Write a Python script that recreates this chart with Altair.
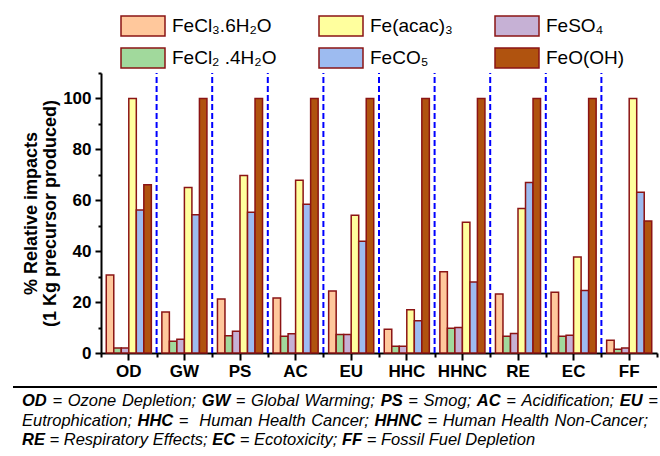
import altair as alt
import pandas as pd

# ---------------- data ----------------
categories = ["OD", "GW", "PS", "AC", "EU", "HHC", "HHNC", "RE", "EC", "FF"]
series_names = ["FeCl₃.6H₂O", "FeCl₂ .4H₂O", "FeSO₄", "Fe(acac)₃", "FeCO₅", "FeO(OH)"]
legend_order = ["FeCl₃.6H₂O", "Fe(acac)₃", "FeSO₄", "FeCl₂ .4H₂O", "FeCO₅", "FeO(OH)"]
legend_colors = ["#FFC89C", "#FFFF9E", "#C6B1D5", "#A1D99C", "#9DBBF0", "#B0530F"]

fecl3_6h2o = [30.6, 16.1, 21.2, 21.6, 24.4, 9.3, 31.9, 23.2, 23.9, 5.0]
fecl2_4h2o = [2.0, 4.6, 6.8, 6.6, 7.3, 2.7, 9.7, 6.6, 6.6, 1.5]
feso4 = [2.0, 5.4, 8.5, 7.6, 7.3, 2.7, 10.0, 7.7, 7.0, 2.0]
fe_acac3 = [100.0, 65.0, 69.7, 67.9, 54.1, 17.0, 51.4, 56.8, 37.7, 100.0]
feco5 = [56.2, 54.3, 55.3, 58.4, 43.9, 12.7, 27.9, 67.0, 24.6, 63.2]
feo_oh = [66.1, 100.0, 100.0, 100.0, 100.0, 100.0, 100.0, 100.0, 100.0, 51.9]

y_major_ticks = [0, 20, 40, 60, 80, 100]
y_minor_ticks = [10, 30, 50, 70, 90, 110]
group_boundaries = [1, 2, 3, 4, 5, 6, 7, 8, 9]

footnote_lines = [
    [("OD", True), (" = Ozone Depletion; ", False), ("GW", True), (" = Global Warming; ", False),
     ("PS", True), (" = Smog; ", False), ("AC", True), (" = Acidification; ", False),
     ("EU", True), (" =", False)],
    [("Eutrophication; ", False), ("HHC", True), (" =  Human Health Cancer; ", False),
     ("HHNC", True), (" = Human Health Non-Cancer;", False)],
    [("RE", True), (" = Respiratory Effects; ", False), ("EC", True), (" = Ecotoxicity; ", False),
     ("FF", True), (" = Fossil Fuel Depletion", False)],
]

series_values = [fecl3_6h2o, fecl2_4h2o, feso4, fe_acac3, feco5, feo_oh]
rows = []
for name, vals in zip(series_names, series_values):
    for c, v in zip(categories, vals):
        rows.append({"cat": c, "series": name, "value": v})
df = pd.DataFrame(rows)

# ---------------- layout ----------------
FONT = "Liberation Sans"
W, H = 556, 280
LEFT, TOP = 101, 73
EDGE = "#8B1414"

# Arial-compatible advance widths (per 1000 em) for footnote layout
REG = {' ': 278, '=': 584, ';': 278, '-': 333, ',': 278}
REG.update(dict(zip("ABCDEFGHIJKLMNOPQRSTUVWXYZ",
                    [667, 667, 722, 722, 667, 611, 778, 722, 278, 500, 667, 556, 833, 722, 778, 667, 778, 722, 667, 611, 722, 667, 944, 667, 667, 611])))
REG.update(dict(zip("abcdefghijklmnopqrstuvwxyz",
                    [556, 556, 500, 556, 556, 278, 556, 556, 222, 222, 500, 222, 833, 556, 556, 556, 556, 333, 500, 278, 556, 500, 722, 500, 500, 500])))
BOLD = {' ': 278}
BOLD.update(dict(zip("ABCDEFGHIJKLMNOPQRSTUVWXYZ",
                     [722, 722, 722, 722, 667, 611, 778, 722, 278, 556, 722, 611, 833, 722, 778, 667, 778, 722, 667, 611, 722, 667, 944, 667, 667, 611])))

FN_SIZE = 16.5
fn_x0 = 22 - LEFT
fn_targets = [636, 626, None]
fn_ys = [401 - TOP, 421 - TOP, 440 - TOP]


def cw(ch, bold):
    return (BOLD if bold else REG).get(ch, 556) * FN_SIZE / 1000.0


words = []
for line, target, yy in zip(footnote_lines, fn_targets, fn_ys):
    chunks = []
    for text, bold in line:
        cur = ""
        for ch in text:
            if ch == " ":
                if cur:
                    chunks.append((cur, bold, False))
                    cur = ""
                chunks.append((" ", bold, True))
            else:
                cur += ch
        if cur:
            chunks.append((cur, bold, False))
    natural = sum(sum(cw(ch, b) for ch in t) for t, b, s in chunks)
    nsp = sum(1 for t, b, s in chunks if s)
    extra = max(0.0, (target - natural) / nsp) if target else 0.0
    xc = fn_x0
    for t, b, s in chunks:
        if s:
            xc += cw(" ", b) + extra
        else:
            words.append({"t": t, "x": xc, "y": yy, "bold": b})
            xc += sum(cw(ch, b) for ch in t)
fn_df = pd.DataFrame(words)

bars = alt.Chart(df).mark_bar(stroke=EDGE, strokeWidth=1.5).encode(
    x=alt.X("cat:N", sort=categories,
            scale=alt.Scale(paddingInner=0, paddingOuter=0),
            axis=alt.Axis(title=None, labelAngle=0, labelFont=FONT, labelFontSize=17,
                          labelFontWeight="bold", labelColor="black", labelPadding=3,
                          tickSize=7, tickWidth=2, tickColor="black",
                          domainColor="black", domainWidth=2, grid=False)),
    xOffset=alt.XOffset("series:N", sort=series_names,
                        scale=alt.Scale(paddingInner=0, paddingOuter=0.7)),
    y=alt.Y("value:Q", scale=alt.Scale(domain=[0, 110], nice=False),
            axis=alt.Axis(values=y_major_ticks, title=["% Relative impacts", "(1 Kg precursor produced)"],
                          titleFont=FONT, titleFontSize=18, titleFontWeight="bold", titleColor="black",
                          titlePadding=3, titleLineHeight=19,
                          labelFont=FONT, labelFontSize=17, labelFontWeight="bold", labelColor="black",
                          labelPadding=4, tickSize=6, tickWidth=2, tickColor="black",
                          domainColor="black", domainWidth=2, grid=False)),
    fill=alt.Fill("series:N", scale=alt.Scale(domain=legend_order, range=legend_colors),
                  legend=alt.Legend(title=None, orient="none", legendX=31, legendY=-58,
                                    direction="horizontal", columns=3, gridAlign="each",
                                    symbolType="M-2.2,-1H2.2V1H-2.2Z", symbolSize=400,
                                    symbolStrokeColor=EDGE, symbolStrokeWidth=1.5, symbolOpacity=1,
                                    labelFont=FONT, labelFontSize=19, labelColor="black",
                                    labelOffset=18, columnPadding=39, rowPadding=6, padding=0,
                                    labelLimit=300)),
)

dividers = alt.Chart(pd.DataFrame({"b": group_boundaries})).mark_rule(
    color="#0000FF", strokeWidth=2, strokeDash=[6, 3]
).encode(
    x=alt.X("b:Q", scale=alt.Scale(domain=[0, 10], nice=False, zero=False),
            axis=alt.Axis(values=list(range(11)), labels=False, domain=False, tickSize=4,
                          tickWidth=2, tickColor="black", title=None, grid=False, orient="bottom")),
    y=alt.YDatum(0, scale=alt.Scale(domain=[0, 110], nice=False),
                 axis=alt.Axis(values=y_minor_ticks, labels=False, domain=False, tickSize=3,
                               tickWidth=2, tickColor="black", title=None, grid=False, orient="left")),
    y2=alt.Y2Datum(110),
)

sep = alt.Chart(pd.DataFrame({"a": [0]})).mark_rule(color="black", strokeWidth=2).encode(
    x=alt.value(13 - LEFT), x2=alt.value(657 - LEFT), y=alt.value(387 - TOP)
)

fn_norm = alt.Chart(fn_df).transform_filter("!datum.bold").mark_text(
    font=FONT, fontSize=FN_SIZE, fontStyle="italic", align="left", baseline="middle", color="black"
).encode(x=alt.X("x:Q", scale=None), y=alt.Y("y:Q", scale=None), text="t:N")

fn_bold = alt.Chart(fn_df).transform_filter("datum.bold").mark_text(
    font=FONT, fontSize=FN_SIZE, fontStyle="italic", fontWeight="bold", align="left",
    baseline="middle", color="black"
).encode(x=alt.X("x:Q", scale=None), y=alt.Y("y:Q", scale=None), text="t:N")

chart = alt.layer(bars, dividers, sep, fn_norm, fn_bold).resolve_scale(
    x="independent", y="independent"
).properties(
    width=W, height=H,
    autosize=alt.AutoSizeParams(type="none"),
    padding={"left": LEFT, "top": TOP, "right": 660 - LEFT - W, "bottom": 456 - TOP - H},
    background="white",
).configure_view(strokeWidth=0)

chart.save("out.html", embed_options={"renderer": "svg", "actions": False})
